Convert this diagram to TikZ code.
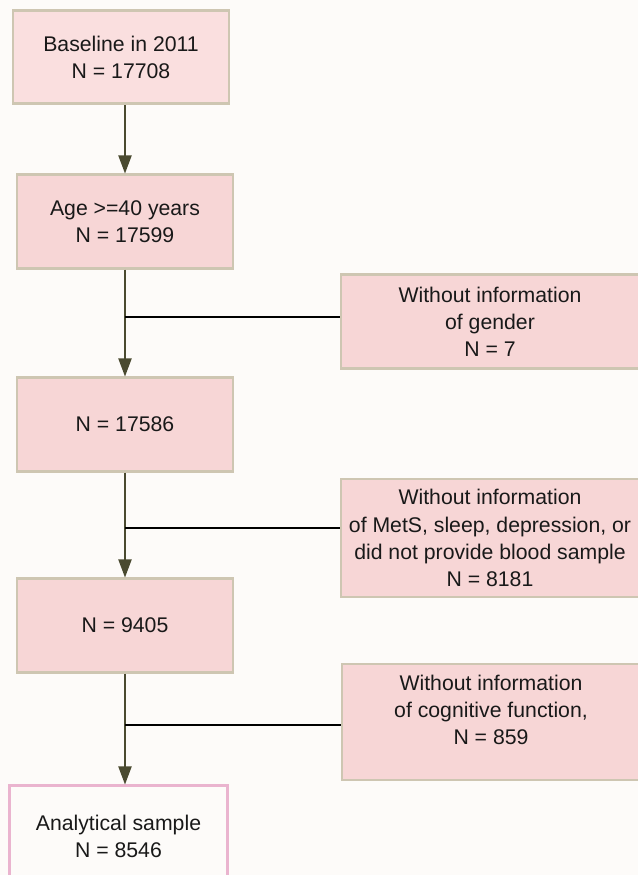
\documentclass[tikz,border=0pt]{standalone}
\usepackage{fontspec}
\setmainfont{Liberation Sans}
\usetikzlibrary{arrows.meta}
\definecolor{bgc}{HTML}{FDFBF9}
\definecolor{boxfill}{HTML}{F7D6D6}
\definecolor{boxfilltop}{HTML}{FADFDF}
\definecolor{boxline}{HTML}{CEC6B2}
\definecolor{endline}{HTML}{EAB4CF}
\definecolor{arrowc}{HTML}{4A4A30}
\begin{document}
\begin{tikzpicture}[x=0.025cm, y=-0.025cm]
      \tikzstyle{STY1} = [draw=boxline, fill=boxfill, line width=2pt, rectangle, minimum width=5.4cm, minimum height=2.33cm, align=center, text=black!90, font=\fontsize{15.1}{19.3}\selectfont]
      \tikzstyle{STY2} = [STY1, minimum width=7.45cm]
      \tikzstyle{STY3} = [-{Triangle[length=0.45cm, width=0.33cm]}, draw=arrowc, line width=0.9pt]
      \tikzstyle{STY4} = [draw=black, line width=1.4pt]

      \fill[bgc] (0,0) rectangle (638,875);
      \useasboundingbox (0,0) rectangle (638,875);

      %%%%% VERTEX

      \node[STY1, fill=boxfilltop](v0) at (121, 57.0) {Baseline in 2011\\N = 17708};
      \node[STY1](v1) at (125, 221.5) {Age >=40 years\\N = 17599};
      \node[STY1](v2) at (125, 424.5) {N = 17586};
      \node[STY1](v3) at (125, 625.5) {N = 9405};
      \node[STY1, fill=bgc, draw=endline, minimum width=5.45cm, minimum height=2.53cm](v4) at (118.5, 836.5) {Analytical sample\\N = 8546};

      \node[STY2](x1) at (490, 321.5) {Without information\\of gender\\N = 7};
      \node[STY2, minimum height=2.95cm](x2) at (490, 538.0) {Without information\\of MetS, sleep, depression, or\\did not provide blood sample\\N = 8181};
      \node[STY2, minimum height=2.9cm, text depth=0.6cm](x3) at (491, 722.0) {Without information\\of cognitive function,\\N = 859};

      \coordinate (j1) at (125, 317);
      \coordinate (j2) at (125, 528);
      \coordinate (j3) at (125, 725);

      %%%%% EDGES
      \draw[STY3]  (v1.north |- v0.south) -- (v1.north);
      \draw[STY3]  (v1.south) -- (v2.north);
      \draw[STY3]  (v2.south) -- (v3.north);
      \draw[STY3]  (v3.south) -- (v3.south |- v4.north);

      \draw[STY4]  (j1) -- (x1.west |- j1);
      \draw[STY4]  (j2) -- (x2.west |- j2);
      \draw[STY4]  (j3) -- (x3.west |- j3);
    \end{tikzpicture}
\end{document}
